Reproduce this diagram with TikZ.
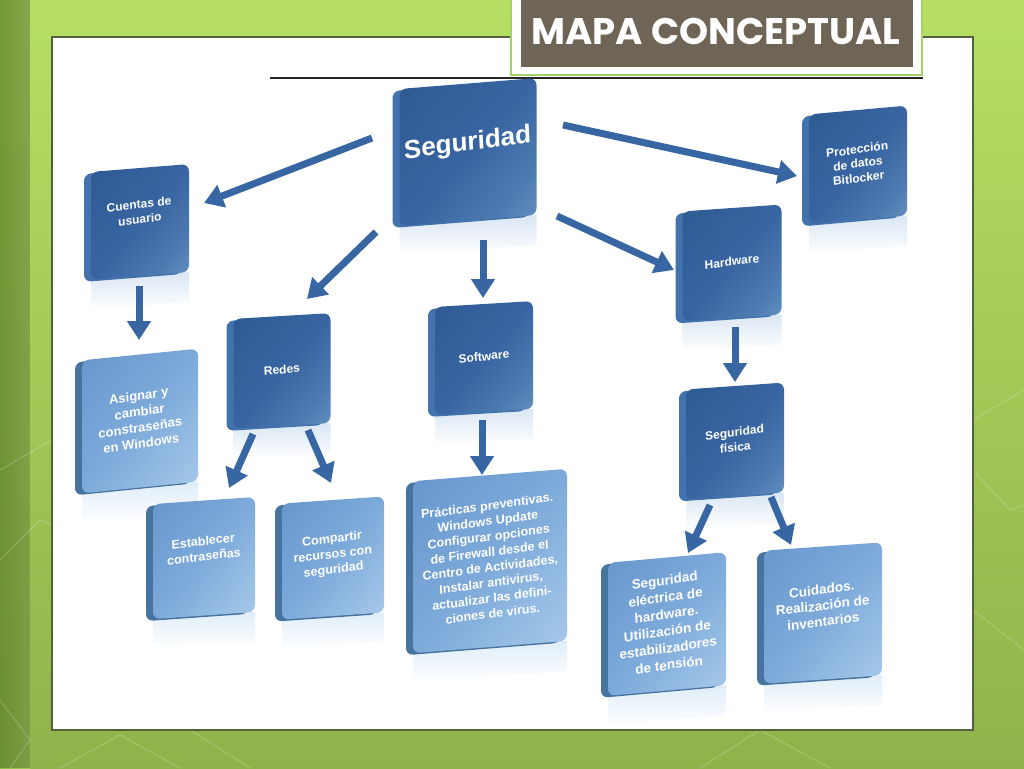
\documentclass[tikz,border=0pt]{standalone}
\usepackage{fontspec}
\usepackage{graphicx}
\setmainfont{Liberation Sans}
\newfontfamily\titlefont{Poppins}
\usetikzlibrary{arrows.meta}
\definecolor{dkA}{HTML}{2A568E}
\definecolor{dkB}{HTML}{3865A1}
\definecolor{dkC}{HTML}{80ACD6}
\definecolor{dkS}{HTML}{4373AD}
\definecolor{ltA}{HTML}{5E8EC7}
\definecolor{ltB}{HTML}{7DAADA}
\definecolor{ltC}{HTML}{B9D7F0}
\definecolor{ltS}{HTML}{46749F}
\definecolor{arrc}{HTML}{3766A3}
\definecolor{titfill}{HTML}{6E6556}
\definecolor{grA}{HTML}{B6DF64}
\definecolor{grB}{HTML}{8FB34A}
\definecolor{grEdge}{HTML}{8DC63F}
\definecolor{panelb}{HTML}{55603F}
\pgfdeclarehorizontalshading{dkface}{100bp}{color(0bp)=(dkA); color(50bp)=(dkB); color(72bp)=(dkB!70!dkC); color(100bp)=(dkC)}
\pgfdeclarehorizontalshading{ltface}{100bp}{color(0bp)=(ltA); color(50bp)=(ltB); color(100bp)=(ltC)}
\tikzset{
  facedk/.style={rounded corners=7pt, shading=dkface, shading angle=-40, text=white, align=center, inner sep=2pt},
  facelt/.style={rounded corners=7pt, shading=ltface, shading angle=-40, text=white, align=center, inner sep=2pt},
  sidedk/.style={rounded corners=7pt, fill=dkS},
  sidelt/.style={rounded corners=7pt, fill=ltS},
  refldk/.style={top color=dkC!30, bottom color=white},
  refllt/.style={top color=ltC!45, bottom color=white},
  conn/.style={draw=arrc, line width=7pt, -{Triangle[width=23pt,length=19pt]}},
  hexline/.style={draw=white, opacity=0.18, line width=1.2pt},
  panelline/.style={draw=panelb, line width=1.5pt},
}
% #1 name, #2 x, #3 y, #4 w, #5 h, #6 slant, #7 kind, #8 options, #9 text
\newcommand{\cmbox}[9]{%
  \node[refl#7, minimum width=#4, minimum height=30, yslant=#6, inner sep=0pt] (#1r) at (#2, #3+#5/2+15) {};
  \node[side#7, minimum width=#4, minimum height=#5, yslant=#6, inner sep=0pt] (#1s) at (#2-7, #3+2) {};
  \node[face#7, minimum width=#4, minimum height=#5, yslant=#6, #8] (#1) at (#2,#3) {\rotatebox{3}{\begin{tabular}{@{}c@{}}#9\end{tabular}}};
}
\newcommand{\fsz}[2]{\fontsize{#1}{#2}\selectfont\bfseries}
\begin{document}
\begin{tikzpicture}[x=1pt,y=-1pt]
\useasboundingbox (0,0) rectangle (1024,768);
% background
\fill[top color=grA, bottom color=grB] (0,0) rectangle (1024,768);
\fill[left color=grEdge, right color=grA, opacity=0.5] (0,0) rectangle (30,768);
% faint hexagon lines
\draw[hexline] (0,560) -- (40,520) -- (52,525);
\draw[hexline] (0,700) -- (30,740) -- (10,768);
\draw[hexline] (0,470) -- (52,440);
\draw[hexline] (60,768) -- (120,735) -- (180,768);
\draw[hexline] (190,730) -- (250,768);
\draw[hexline] (700,768) -- (760,730) -- (830,768);
\draw[hexline] (973,420) -- (1024,390);
\draw[hexline] (973,610) -- (1024,650);
\draw[hexline] (973,470) -- (1010,510) -- (1024,505);
% panel
\fill[white] (52,37) rectangle (973,730);
\draw[panelline] (52,37) rectangle (973,730);
% title
\fill[grEdge!80!white] (510,-5) rectangle (923,76);
\fill[white] (512,-5) rectangle (921,74);
\fill[titfill] (521,-5) rectangle (913,67);
\node[text=white, font=\titlefont\bfseries\fontsize{37}{40}\selectfont, inner sep=0pt] (title) at (716,31) {MAPA CONCEPTUAL};
\draw[black!85, line width=2pt] (270,78) -- (923,78);
% boxes
\cmbox{seg}{468}{152}{137}{137}{0.08}{dk}{font=\fsz{26}{28}}{Seguridad\\[14pt]}
\cmbox{cu}{140}{222}{98}{108}{0.08}{dk}{font=\fsz{12}{15}}{Cuentas de\\usuario\\[18pt]}
\cmbox{asig}{140}{421}{116}{133}{0.1}{lt}{font=\fsz{13}{16}}{Asignar y\\cambiar\\constraseñas\\en Windows}
\cmbox{redes}{282}{371}{97}{110}{0.06}{dk}{font=\fsz{12}{14}}{Redes}
\cmbox{est}{204}{558}{102}{115}{0.07}{lt}{font=\fsz{12.5}{15.5}}{Establecer\\contraseñas\\[16pt]}
\cmbox{comp}{333}{558}{102}{116}{0.07}{lt}{font=\fsz{12.5}{15.5}}{Compartir\\recursos con\\seguridad\\[6pt]}
\cmbox{soft}{484}{358}{98}{108}{0.06}{dk}{font=\fsz{12}{14}}{Software}
\cmbox{prac}{490}{561}{154}{172}{0.08}{lt}{font=\fsz{12.5}{15.5}}{Prácticas preventivas.\\Windows Update\\Configurar opciones\\de Firewall desde el\\Centro de Actividades,\\Instalar antivirus,\\actualizar las defini-\\ciones de virus.}
\cmbox{hw}{732}{263}{99}{110}{0.07}{dk}{font=\fsz{12}{14}}{Hardware}
\cmbox{sf}{735}{441}{98}{110}{0.07}{dk}{font=\fsz{12}{15}}{Seguridad\\física}
\cmbox{prot}{858}{165}{98}{110}{0.09}{dk}{font=\fsz{12}{14.5}}{Protección\\de datos\\Bitlocker}
\cmbox{se}{667}{624}{118}{133}{0.09}{lt}{font=\fsz{13.5}{17}}{Seguridad\\eléctrica de\\hardware.\\Utilización de\\estabilizadores\\de tensión}
\cmbox{cui}{823}{613}{118}{133}{0.07}{lt}{font=\fsz{13.5}{16}}{Cuidados.\\Realización de\\inventarios\\[12pt]}
% bottom panel edge redrawn over reflections
\draw[panelline] (52,730) -- (973,730);
% connectors
\draw[conn] ([shift={(-96,-14)}]seg.center) -- ([shift={(64,-19)}]cu.center);
\draw[conn] ([shift={(95,-27)}]seg.center) -- ([shift={(-61,11)}]prot.center);
\draw[conn] ([shift={(-92,80)}]seg.center) -- ([shift={(25,-72)}]redes.center);
\draw[conn] ([shift={(15,88)}]seg.center) -- ([shift={(-1,-60)}]soft.center);
\draw[conn] ([shift={(89,64)}]seg.center) -- ([shift={(-58,7)}]hw.center);
\draw[conn] ([shift={(-1,64)}]cu.center) -- ([shift={(-1,-81)}]asig.center);
\draw[conn] ([shift={(-29,63)}]redes.center) -- ([shift={(25,-70)}]est.center);
\draw[conn] ([shift={(26,59)}]redes.center) -- ([shift={(-2,-75)}]comp.center);
\draw[conn] ([shift={(-2,62)}]soft.center) -- ([shift={(-8,-86)}]prac.center);
\draw[conn] ([shift={(3,64)}]hw.center) -- ([shift={(0,-59)}]sf.center);
\draw[conn] ([shift={(-25,64)}]sf.center) -- ([shift={(21,-71)}]se.center);
\draw[conn] ([shift={(36,56)}]sf.center) -- ([shift={(-32,-68)}]cui.center);
\end{tikzpicture}
\end{document}
